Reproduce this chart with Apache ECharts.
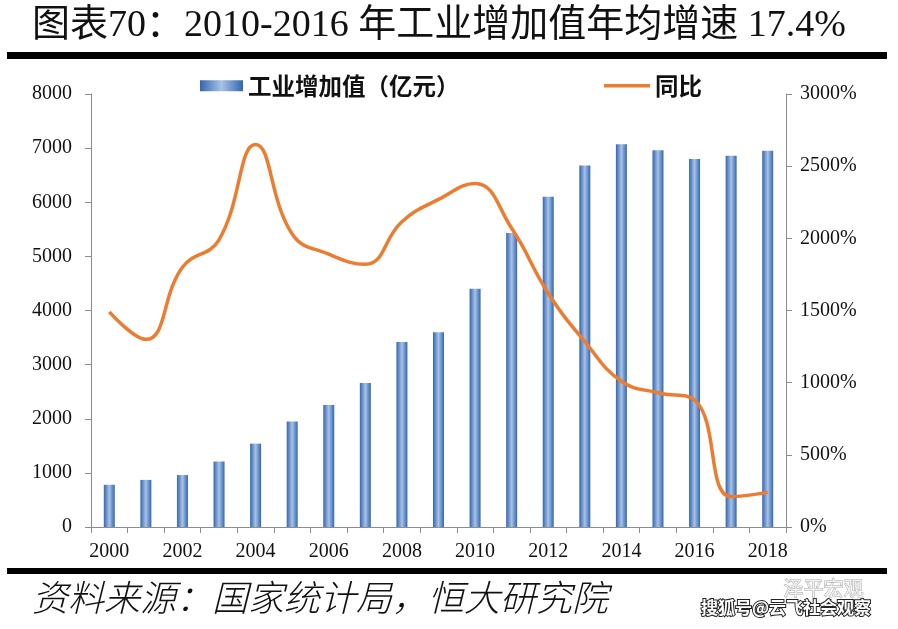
<!DOCTYPE html>
<html>
<head>
<meta charset="utf-8">
<script src="https://cdn.jsdelivr.net/npm/echarts@6/dist/echarts.min.js"></script>
<style>
html,body{margin:0;padding:0;background:#fff;}
#chart{width:898px;height:629px;}
</style>
</head>
<body>
<div id="chart"></div>
<script>
var years = ['2000','2001','2002','2003','2004','2005','2006','2007','2008','2009','2010','2011','2012','2013','2014','2015','2016','2017','2018'];
var addedValue = [780, 870, 960, 1210, 1540, 1950, 2255, 2660, 3420, 3600, 4400, 5430, 6100, 6680, 7070, 6960, 6800, 6860, 6950];
var yoyGrowth = [1490, 1300, 1800, 1990, 2650, 2030, 1890, 1820, 2115, 2270, 2380, 2070, 1620, 1285, 1010, 930, 880, 210, 240];
var leftTicks = {min: 0, max: 8000, interval: 1000};
var rightTicks = {min: 0, max: 3000, interval: 500};
var titleText = '图表70：2010-2016 年工业增加值年均增速 17.4%';
var sourceText = '资料来源：国家统计局，恒大研究院';
var barName = '工业增加值（亿元）';
var lineName = '同比';

var chart = echarts.init(document.getElementById('chart'), null, {renderer: 'canvas'});
var serif = "'Liberation Serif', 'Noto Sans CJK SC', serif";
var cjk = "'Noto Sans CJK SC', sans-serif";
var barGrad = new echarts.graphic.LinearGradient(0, 0, 1, 0, [
  {offset: 0, color: '#3466ae'},
  {offset: 0.5, color: '#a6c2e8'},
  {offset: 1, color: '#3466ae'}
]);
var axisGray = '#8c8c8c';
var lineColor = '#ec7c30';

chart.setOption({
  backgroundColor: '#fff',
  animation: false,
  grid: {left: 91, right: 112, top: 94, bottom: 102, containLabel: false},
  legend: [
    {data: [{name: barName, icon: 'rect'}], left: 195, top: 69, itemWidth: 43, itemHeight: 11, itemGap: 5,
     textStyle: {fontFamily: cjk, fontSize: 23.5, fontWeight: 'bold', color: '#111'}},
    {data: [{name: lineName, icon: 'rect', itemStyle: {color: lineColor}}], left: 599, top: 69, itemWidth: 46, itemHeight: 3.5,
     textStyle: {fontFamily: cjk, fontSize: 23.5, fontWeight: 'bold', color: '#111'}}
  ],
  xAxis: {
    type: 'category', data: years, boundaryGap: true,
    axisLine: {lineStyle: {color: axisGray, width: 1}},
    axisTick: {show: true, alignWithLabel: false, interval: 0, length: 6, lineStyle: {color: axisGray}},
    axisLabel: {interval: 1, margin: 15, fontFamily: serif, fontSize: 20, color: '#111'}
  },
  yAxis: [
    {type: 'value', min: leftTicks.min, max: leftTicks.max, interval: leftTicks.interval, position: 'left',
     splitLine: {show: false},
     axisLine: {show: true, lineStyle: {color: axisGray}},
     axisTick: {show: true, length: 6, lineStyle: {color: axisGray}},
     axisLabel: {margin: 19, fontFamily: serif, fontSize: 20, color: '#111', formatter: function (v) { return String(v); }}},
    {type: 'value', min: rightTicks.min, max: rightTicks.max, interval: rightTicks.interval, position: 'right',
     splitLine: {show: false},
     axisLine: {show: true, lineStyle: {color: axisGray}},
     axisTick: {show: true, length: 6, lineStyle: {color: axisGray}},
     axisLabel: {margin: 14, fontFamily: serif, fontSize: 20, color: '#111', formatter: function (v) { return String(v) + '%'; }}}
  ],
  series: [
    {name: barName, type: 'bar', data: addedValue, barWidth: 11, yAxisIndex: 0,
     itemStyle: {color: barGrad}},
    {name: lineName, type: 'line', data: yoyGrowth, yAxisIndex: 1, smooth: 0.45,
     symbol: 'none', showSymbol: false,
     lineStyle: {color: lineColor, width: 3.5}, itemStyle: {color: lineColor}}
  ],
  graphic: [
    {type: 'text', left: 32, top: 7, style: {text: titleText, fontFamily: serif, fontSize: 38, fill: '#111'}},
    {type: 'rect', shape: {x: 7, y: 52, width: 880, height: 7}, style: {fill: '#000'}},
    {type: 'rect', shape: {x: 7, y: 568, width: 880, height: 6}, style: {fill: '#000'}},
    {type: 'text', left: 32, top: 579, style: {text: sourceText, fontFamily: cjk, fontStyle: 'italic', fontWeight: 300, fontSize: 36, fill: '#111'}},
    {type: 'text', left: 783, top: 578, style: {text: '泽平宏观', fontFamily: cjk, fontSize: 20, fill: '#f2f2f2', stroke: '#aaa', lineWidth: 1}},
    {type: 'text', left: 700, top: 598, style: {text: '搜狐号@云飞社会观察', fontFamily: cjk, fontWeight: 'bold', fontSize: 17, fill: '#fff', stroke: '#222', lineWidth: 2}}
  ]
});
</script>
</body>
</html>
